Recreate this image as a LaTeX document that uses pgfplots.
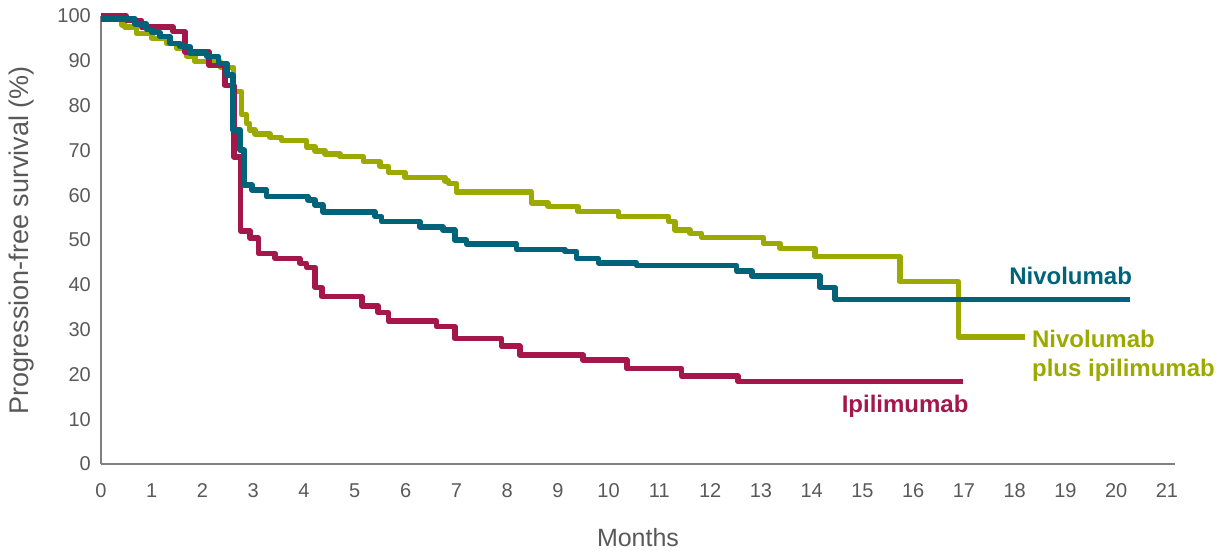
\documentclass[border=0pt]{standalone}
\usepackage{pgfplots}
\pgfplotsset{compat=1.18}
\usepackage{fontspec}
\setmainfont{Liberation Sans}
\definecolor{nivo}{RGB}{0,99,122}
\definecolor{combo}{RGB}{156,170,0}
\definecolor{ipi}{RGB}{163,23,74}
\definecolor{axgray}{RGB}{128,128,128}
\definecolor{txtgray}{RGB}{89,89,89}
\begin{document}
\begin{tikzpicture}
\useasboundingbox (-101pt,-86pt) rectangle (1124pt,464pt);
\begin{axis}[
  at={(0,0)}, anchor=south west,
  x=50.76pt, y=4.48pt,
  xmin=0, xmax=21.15, ymin=0, ymax=100,
  axis x line=bottom, axis y line=left,
  axis line style={-, draw=axgray, line width=1.6pt},
  xtick={0,1,...,21}, ytick={0,10,...,100},
  major tick length=0pt,
  /pgf/number format/assume math mode=true,
  tick label style={font=\fontsize{20}{24}\selectfont, text=txtgray},
  xticklabel style={anchor=center, yshift=-26.5pt, inner sep=0pt},
  yticklabel style={anchor=east, xshift=-10pt, inner sep=0pt},
  xlabel={Months},
  ylabel={Progression-free survival (\%)},
  xlabel style={font=\fontsize{25}{30}\selectfont, text=txtgray, at={(axis description cs:0.5002,-0.165)}, anchor=center, inner sep=0pt},
  ylabel style={font=\fontsize{27}{32}\selectfont, text=txtgray, at={(axis description cs:-0.0736,0.5)}, anchor=center, inner sep=0pt},
  clip=false,
  every axis plot/.append style={line width=5.5pt, line join=round, line cap=butt, const plot},
]
% Nivolumab plus ipilimumab
\addplot[combo] coordinates {
(0,99.5) (0.41,98) (0.47,97.5) (0.7,96.1) (1.0,95) (1.29,93.9) (1.49,92.8)
(1.69,91) (1.85,89.8) (2.35,88.5) (2.61,83.1) (2.77,78) (2.87,76) (2.93,74.6)
(3.03,73.7) (3.33,72.9) (3.56,72.2) (4.05,70.8) (4.22,69.9) (4.41,69.2)
(4.71,68.6) (5.17,67.5) (5.5,66.4) (5.66,65.1) (5.99,64) (6.78,63.2) (6.85,62.6)
(7.0,60.7) (8.48,58.3) (8.81,57.5) (9.4,56.4) (10.19,55.2) (11.18,54.1)
(11.31,52.2) (11.6,51.5) (11.83,50.6) (13.05,49.2) (13.38,48.1) (14.07,46.3)
(15.74,40.7) (16.89,28.4) (18.2,28.4)
};
% Ipilimumab
\addplot[ipi] coordinates {
(0,100) (0.5,99) (0.8,97.5) (1.42,96.5) (1.65,92) (2.13,89) (2.44,84.5)
(2.62,68.5) (2.75,52) (2.94,50.4) (3.1,47) (3.43,45.9) (3.92,44.8) (4.05,43.9)
(4.22,39.4) (4.35,37.4) (5.14,35.3) (5.46,33.8) (5.66,31.9) (6.61,30.7)
(6.97,28.0) (7.89,26.3) (8.25,24.3) (9.5,23.2) (10.36,21.3) (11.44,19.6)
(12.55,18.4) (16.98,18.4)
};
% Nivolumab
\addplot[nivo] coordinates {
(0,99.3) (0.67,98.2) (0.9,97) (1.0,96.3) (1.16,95.4) (1.36,93.9) (1.56,93.2)
(1.75,91.7) (2.08,91) (2.31,89.4) (2.48,86.8) (2.6,74.6) (2.74,70.1)
(2.82,62.3) (2.97,61.2) (3.26,59.7) (4.08,58.9) (4.22,57.8) (4.37,56.3)
(5.4,55.2) (5.53,54.1) (6.28,52.9) (6.74,52.2) (6.97,50) (7.2,49.1)
(8.19,47.9) (9.14,47.4) (9.37,45.9) (9.8,44.9) (10.55,44.3) (12.52,43.1)
(12.82,42.0) (14.16,39.4) (14.46,36.7) (20.27,36.7)
};
\node[anchor=base west, inner sep=0pt, text=nivo, font=\fontsize{24}{28}\selectfont\bfseries] at (axis cs:17.89,39.96) {Nivolumab};
\node[anchor=base west, inner sep=0pt, text=combo, font=\fontsize{24}{28}\selectfont\bfseries] at (axis cs:18.34,25.9) {Nivolumab};
\node[anchor=base west, inner sep=0pt, text=combo, font=\fontsize{24}{28}\selectfont\bfseries] at (axis cs:18.34,19.5) {plus ipilimumab};
\node[anchor=base west, inner sep=0pt, text=ipi, font=\fontsize{24}{28}\selectfont\bfseries] at (axis cs:14.59,11.4) {Ipilimumab};
\end{axis}
\end{tikzpicture}
\end{document}
